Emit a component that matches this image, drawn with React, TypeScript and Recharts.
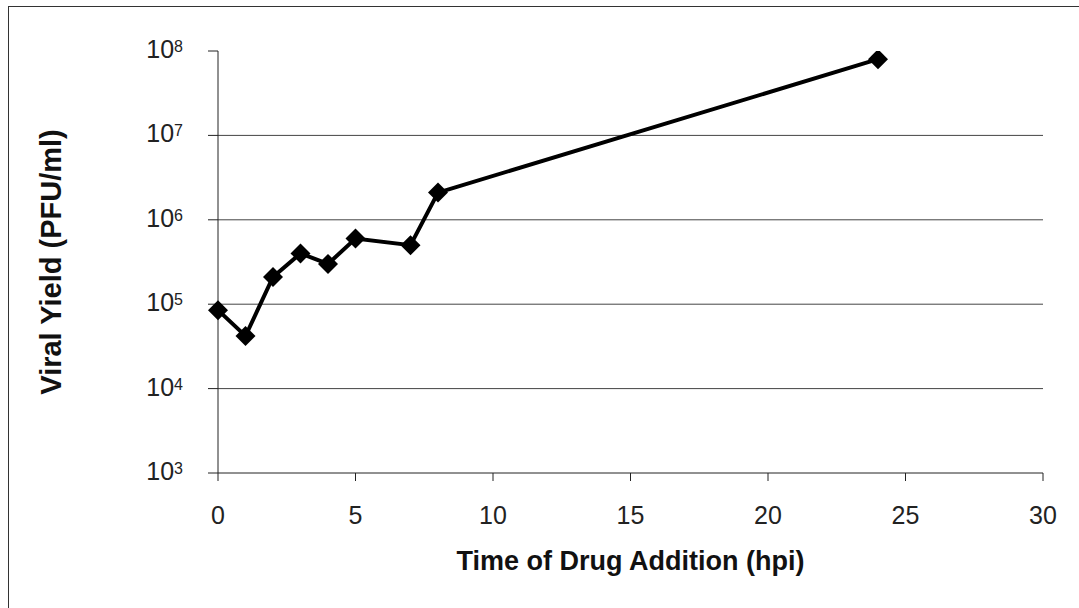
import { LineChart, Line, XAxis, YAxis, CartesianGrid, Label } from 'recharts'

const hours = [0, 1, 2, 3, 4, 5, 7, 8, 24]
const yields = [8.5e4, 4.2e4, 2.1e5, 4e5, 3e5, 6e5, 5e5, 2.1e6, 8e7]
const xTicks = [0, 5, 10, 15, 20, 25, 30]
const yExponents = [3, 4, 5, 6, 7, 8]
const gridExponents = [4, 5, 6, 7]

const data = hours.map((h, i) => ({ hpi: h, pfu: yields[i] }))
const font = '"Liberation Sans", Arial, sans-serif'

function PowerTick(props: any) {
  const { x, y, payload } = props
  const exp = Math.round(Math.log10(payload.value))
  return (
    <text x={x - 25} y={y} textAnchor="end" fontFamily={font} fontSize={25} fill="#222" dy={7}>
      10
      <tspan fontSize={16} dy={-6}>{exp}</tspan>
    </text>
  )
}

function Diamond(props: any) {
  const { cx, cy } = props
  if (cx == null || cy == null) return null
  const r = 10
  return <polygon points={`${cx},${cy - r} ${cx + r},${cy} ${cx},${cy + r} ${cx - r},${cy}`} fill="#000" />
}

export default function App() {
  return (
    <div style={{ position: 'absolute', left: 0, top: 0, width: 1079, height: 608, background: '#fff' }}>
      <div
        style={{
          position: 'absolute', left: 8, top: 6, width: 1071, height: 602,
          borderTop: '1px solid #333', borderLeft: '1px solid #333',
        }}
      />
      <div style={{ position: 'absolute', left: 0, top: 0 }}>
        <LineChart width={1079} height={608} data={data} margin={{ top: 51, right: 36, bottom: 0, left: 0 }}>
          <CartesianGrid
            vertical={false}
            horizontalValues={gridExponents.map((e) => Math.pow(10, e))}
            stroke="#444"
            strokeWidth={1}
          />
          <XAxis
            dataKey="hpi"
            type="number"
            domain={[0, 30]}
            ticks={xTicks}
            height={135}
            tickSize={8}
            tickMargin={25}
            axisLine={{ stroke: '#222' }}
            tickLine={{ stroke: '#222' }}
            tick={{ fontFamily: font, fontSize: 25, fill: '#222' }}
          >
            <Label
              value="Time of Drug Addition (hpi)"
              position="insideBottom"
              offset={38}
              style={{ fontFamily: font, fontSize: 27, fontWeight: 'bold', fill: '#111' }}
            />
          </XAxis>
          <YAxis
            scale="log"
            type="number"
            domain={[1e3, 1e8]}
            ticks={yExponents.map((e) => Math.pow(10, e))}
            allowDataOverflow
            width={218}
            tickSize={10}
            tickMargin={0}
            axisLine={{ stroke: '#222' }}
            tickLine={{ stroke: '#222' }}
            tick={<PowerTick />}
          >
            <Label
              value="Viral Yield (PFU/ml)"
              angle={-90}
              position="insideLeft"
              offset={51}
              style={{ textAnchor: 'middle', fontFamily: font, fontSize: 29, fontWeight: 'bold', fill: '#111' }}
            />
          </YAxis>
          <Line
            dataKey="pfu"
            stroke="#000"
            strokeWidth={4}
            dot={<Diamond />}
            activeDot={false}
            isAnimationActive={false}
          />
        </LineChart>
      </div>
    </div>
  )
}
